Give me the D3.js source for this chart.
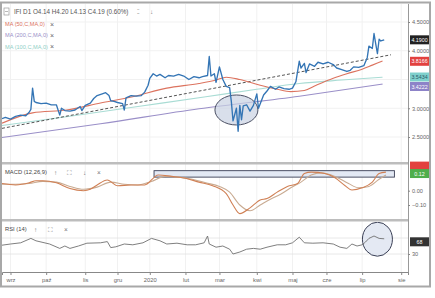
<!DOCTYPE html>
<html><head><meta charset="utf-8">
<script src="https://cdn.jsdelivr.net/npm/d3@7"></script>
<style>
html,body{margin:0;padding:0;background:#fff;}
svg{display:block;font-family:"Liberation Sans",Arial,sans-serif;}
</style></head>
<body><svg id="c" width="435" height="298"></svg>
<script>
// ---------- data (trading-day index based) ----------
const tickDays   = [5,26,49,68,87,108,128,150,171,191,212,235];
const tickLabels = ["wrz","paź","lis","gru","2020","lut","mar","kwi","maj","cze","lip","sie"];

const priceDay   = [0,2,5,8,11,14,16,17,18,19,20,23,26,29,32,34,35,37,40,43,46,47,49,52,54,56,59,61,63,64,66,68,71,72,73,76,79,82,84,86,87,89,91,93,96,98,101,104,107,110,113,116,118,121,122,123,125,126,128,130,132,134,135,136,138,139,140,141,142,144,146,148,150,151,154,156,158,161,163,166,169,171,173,175,176,178,179,181,184,186,189,192,195,197,200,203,205,207,210,213,215,216,218,219,220,221,222,223,225];
const priceClose = [2.82,2.84,2.81,2.86,2.88,2.87,2.93,2.98,3.35,3.12,3.10,3.08,3.09,3.06,3.06,2.88,3.00,2.96,2.95,2.97,3.03,2.96,3.05,3.09,3.17,3.22,3.25,3.27,3.22,3.13,3.12,3.10,3.08,2.97,3.18,3.22,3.21,3.22,3.28,3.40,3.52,3.60,3.56,3.59,3.53,3.57,3.56,3.59,3.56,3.50,3.55,3.53,3.55,3.57,3.90,3.56,3.60,3.45,3.72,3.50,3.38,3.36,3.12,2.78,3.00,2.60,3.05,2.80,3.04,3.06,2.95,3.05,3.25,3.00,3.23,3.30,3.38,3.33,3.37,3.34,3.33,3.35,3.46,3.82,3.70,3.78,3.62,3.77,3.73,3.80,3.77,3.80,3.76,3.70,3.67,3.64,3.66,3.72,3.71,3.74,3.88,4.08,4.04,4.30,4.12,3.95,4.20,4.17,4.19];

const ma50Day   = [0,18,38,58,77,97,116,126,132,140,152,162,170,178,185,195,203,212,218,224];
const ma50Val   = [2.74,2.92,2.97,3.09,3.20,3.35,3.43,3.49,3.54,3.50,3.40,3.33,3.29,3.31,3.40,3.52,3.60,3.68,3.75,3.82];
const ma100Day  = [0,40,80,120,150,175,200,224];
const ma100Val  = [2.70,2.86,3.03,3.20,3.33,3.43,3.49,3.54];
const ma200Day  = [0,58,116,175,224];
const ma200Val  = [2.49,2.73,2.99,3.21,3.42];
const trendDay  = [0,229];
const trendVal  = [2.65,3.93];

const macdDay   = [0,8,16,20,24,32,40,48,52,56,62,68,76,84,92,100,108,116,124,132,136,140,146,152,156,162,168,174,178,182,190,196,202,206,212,218,222,226];
const macdVal   = [0.05,0.04,0.055,0.07,0.07,0.055,0.015,0.0,0.01,0.04,0.075,0.035,0.04,0.04,0.11,0.10,0.087,0.06,0.035,-0.02,-0.10,-0.16,-0.12,-0.065,-0.055,-0.01,0.03,0.05,0.12,0.13,0.12,0.09,0.035,0.005,0.02,0.06,0.12,0.13];
const signalDay = [0,8,16,24,32,40,48,56,64,72,80,88,96,104,112,120,128,134,140,146,152,158,164,170,176,182,188,196,204,210,216,222,226];
const signalVal = [0.045,0.045,0.05,0.065,0.06,0.03,0.01,0.025,0.06,0.045,0.04,0.065,0.10,0.095,0.08,0.055,0.03,-0.01,-0.10,-0.14,-0.10,-0.06,-0.025,0.02,0.06,0.11,0.125,0.10,0.05,0.02,0.03,0.08,0.11];

const rsiDay = [0,5,11,17,20,28,34,37,40,45,50,58,62,64,67,72,77,83,88,93,97,103,109,114,119,121,122,126,130,134,136,140,144,148,152,156,162,167,171,175,178,183,189,195,199,203,206,209,212,214,216,219,222,225];
const rsiVal = [52,55,58,69,63,55,44,50,44,50,57,58,61,46,48,55,53,58,69,63,55,57,53,53,58,75,55,47,50,42,30,35,42,44,42,47,53,53,58,72,58,57,58,55,47,44,55,50,53,60,69,75,69,68];

const priceGrid  = [2.5,3.0,3.5,4.0,4.5];
const priceTicks = [2.5,3.0,4.0,4.5];
const macdTicks  = [0.0,-0.1];
const rsiTicks   = [30];
const rsiLevels  = [30,70];

const legendNames  = ["MA (50,C,MA,0)","MA (200,C,MA,0)","MA (100,C,MA,0)"];
const headerText   = "IFI D1  O4.14  H4.20  L4.13  C4.19  (0.60%)";
const priceLabels  = [{v:4.19,t:"4.1900",bg:"#222",fg:"#fff"},{v:3.8166,t:"3.8166",bg:"#e2413f",fg:"#fff"},{v:3.5434,t:"3.5434",bg:"#7fd0cc",fg:"#2a5c6a"},{v:3.4222,t:"3.4222",bg:"#8d83c8",fg:"#fff"}];

// annotations
const priceEllipse = {day:138, v:2.97};
const rsiEllipse   = {day:221, v:67};
const macdBox      = {d0:89.5, d1:231, v0:0.14, v1:0.095};

// ---------- layout ----------
const svg = d3.select("#c");
const L = 2, R = 408;
const x = d3.scaleLinear().domain([0,239]).range([L,R]);
const yP = d3.scaleLinear().domain([2.5,4.5]).range([137,22]);
const yM = d3.scaleLinear().domain([-0.1,0]).range([205,190.7]);
const yR = d3.scaleLinear().domain([0,100]).range([266,226]);

const colRed="#dc735f", colTeal="#a9dcd4", colPurple="#9a8fc8", colBlue="#3475b5";

// frame
svg.append("rect").attr("x",1).attr("y",2.5).attr("width",429).attr("height",284).attr("fill","#fff").attr("stroke","#a8a8a8").attr("stroke-width",2);

// grid
const grid = svg.append("g").attr("stroke","#f1f1f1").attr("stroke-width",1);
tickDays.forEach(d=>{ grid.append("line").attr("x1",x(d)).attr("x2",x(d)).attr("y1",4).attr("y2",272); });
priceGrid.forEach(v=>{ grid.append("line").attr("x1",L).attr("x2",R).attr("y1",yP(v)).attr("y2",yP(v)); });

// clip
const defs = svg.append("defs");
defs.append("clipPath").attr("id","cp").append("rect").attr("x",L).attr("y",4).attr("width",R-L).attr("height",158);
defs.append("clipPath").attr("id","cm").append("rect").attr("x",L).attr("y",165).attr("width",R-L).attr("height",54);
defs.append("clipPath").attr("id","cr").append("rect").attr("x",L).attr("y",222).attr("width",R-L).attr("height",50);

function series(days, vals){ return days.map((d,i)=>[d,vals[i]]); }

// price panel
const gp = svg.append("g").attr("clip-path","url(#cp)");
const lineP = d3.line().x(d=>x(d[0])).y(d=>yP(d[1]));
const lineS = d3.line().x(d=>x(d[0])).y(d=>yP(d[1])).curve(d3.curveMonotoneX);
gp.append("path").datum(series(ma200Day,ma200Val)).attr("d",lineS).attr("fill","none").attr("stroke",colPurple).attr("stroke-width",1.1);
gp.append("path").datum(series(ma100Day,ma100Val)).attr("d",lineS).attr("fill","none").attr("stroke",colTeal).attr("stroke-width",1.1);
gp.append("path").datum(series(trendDay,trendVal)).attr("d",lineP).attr("fill","none").attr("stroke","#555").attr("stroke-width",1).attr("stroke-dasharray","3,2");
gp.append("path").datum(series(ma50Day,ma50Val)).attr("d",lineS).attr("fill","none").attr("stroke",colRed).attr("stroke-width",1.1);
gp.append("ellipse").attr("cx",x(priceEllipse.day)).attr("cy",yP(priceEllipse.v)).attr("rx",21.5).attr("ry",15)
  .attr("fill","#c9d1e3").attr("fill-opacity",0.7).attr("stroke","#4a4f63").attr("stroke-width",1);
gp.append("path").datum(series(priceDay,priceClose)).attr("d",lineP).attr("fill","none").attr("stroke",colBlue).attr("stroke-width",1.35).attr("stroke-linejoin","round");

// header
svg.append("rect").attr("x",4).attr("y",8).attr("width",5).attr("height",7).attr("fill","none").attr("stroke","#999").attr("stroke-width",0.7);
svg.append("line").attr("x1",5).attr("x2",8).attr("y1",11.5).attr("y2",11.5).attr("stroke","#999").attr("stroke-width",0.7);
svg.append("text").attr("x",14).attr("y",14).attr("font-size",6.3).attr("fill","#555").text(headerText);
svg.append("text").attr("x",137).attr("y",14).attr("font-size",6.5).attr("fill","#888").text("⁚⁚");
svg.append("text").attr("x",150).attr("y",14).attr("font-size",6.5).attr("fill","#888").text("↓");

// legend
const legCols = [colRed, colPurple, "#8fcfc6"];
legendNames.forEach((n,i)=>{
  svg.append("text").attr("x",5).attr("y",26+i*11.3).attr("font-size",5.6).attr("fill",legCols[i]).text(n);
  svg.append("text").attr("x",50).attr("y",26.5+i*11.3).attr("font-size",7).attr("fill","#666").text("×");
});

// separators
svg.append("rect").attr("x",L).attr("y",162).attr("width",R-L).attr("height",2.5).attr("fill","#bdbdbd");
svg.append("rect").attr("x",L).attr("y",219).attr("width",R-L).attr("height",2.5).attr("fill","#bdbdbd");
svg.append("line").attr("x1",R+0.5).attr("x2",R+0.5).attr("y1",4).attr("y2",273).attr("stroke","#999").attr("stroke-width",1);

// MACD panel
const gm = svg.append("g").attr("clip-path","url(#cm)");
gm.append("rect").attr("x",x(macdBox.d0)).attr("y",yM(macdBox.v0)).attr("width",x(macdBox.d1)-x(macdBox.d0)).attr("height",yM(macdBox.v1)-yM(macdBox.v0))
  .attr("fill","#e3e9f4").attr("stroke","#3a3f55").attr("stroke-width",0.9);
const lineM = d3.line().x(d=>x(d[0])).y(d=>yM(d[1])).curve(d3.curveMonotoneX);
gm.append("path").datum(series(signalDay,signalVal)).attr("d",lineM).attr("fill","none").attr("stroke","#c9ab92").attr("stroke-width",1.1);
gm.append("path").datum(series(macdDay,macdVal)).attr("d",lineM).attr("fill","none").attr("stroke","#d08055").attr("stroke-width",1.1);
svg.append("text").attr("x",5).attr("y",174).attr("font-size",5.8).attr("fill","#444").text("MACD (12,26,9)");
[["↑",54],["⛶",67],["↓",83],["×",97]].forEach(a=>svg.append("text").attr("x",a[1]).attr("y",174.5).attr("font-size",6.5).attr("fill","#777").text(a[0]));

// RSI panel
const gr = svg.append("g").attr("clip-path","url(#cr)");
rsiLevels.forEach(v=>gr.append("line").attr("x1",L).attr("x2",R).attr("y1",yR(v)).attr("y2",yR(v)).attr("stroke","#e2e2e2").attr("stroke-width",0.8));
gr.append("ellipse").attr("cx",x(rsiEllipse.day)).attr("cy",yR(rsiEllipse.v)).attr("rx",15).attr("ry",17)
  .attr("fill","#dde3f0").attr("fill-opacity",0.8).attr("stroke","#3a3f55").attr("stroke-width",1);
const lineR = d3.line().x(d=>x(d[0])).y(d=>yR(d[1]));
gr.append("path").datum(series(rsiDay,rsiVal)).attr("d",lineR).attr("fill","none").attr("stroke","#707070").attr("stroke-width",0.9);
svg.append("text").attr("x",5).attr("y",231).attr("font-size",5.8).attr("fill","#444").text("RSI (14)");
[["↑",34],["⛶",48],["×",64]].forEach(a=>svg.append("text").attr("x",a[1]).attr("y",231.5).attr("font-size",6.5).attr("fill","#777").text(a[0]));

// x axis
const xAxis = d3.axisBottom(x).tickValues(tickDays).tickFormat((d,i)=>tickLabels[i]).tickSize(3).tickPadding(3);
const gx = svg.append("g").attr("transform","translate(0,272)").call(xAxis);
gx.select(".domain").attr("stroke","#888");
gx.selectAll(".tick line").attr("stroke","#888");
gx.selectAll("text").attr("font-size",5.8).attr("fill","#666").attr("font-family","Liberation Sans, Arial, sans-serif");

// right axes
function rightAxis(scale, ticks, fmt){
  const g = svg.append("g").attr("transform",`translate(${R},0)`).call(d3.axisRight(scale).tickValues(ticks).tickFormat(fmt).tickSize(2).tickPadding(2));
  g.select(".domain").remove();
  g.selectAll(".tick line").attr("stroke","#888");
  g.selectAll("text").attr("font-size",5.6).attr("fill","#666").attr("font-family","Liberation Sans, Arial, sans-serif");
}
rightAxis(yP, priceTicks, d3.format(".4f"));
rightAxis(yM, macdTicks, d3.format(".2f"));
rightAxis(yR, rsiTicks, d3.format("d"));

// value boxes (stacked so they do not overlap)
function box(yc, bg, fg, t){
  svg.append("rect").attr("x",R+2).attr("y",yc-4.5).attr("width",19).attr("height",9).attr("fill",bg);
  if(t) svg.append("text").attr("x",R+11.5).attr("y",yc+2).attr("text-anchor","middle").attr("font-size",5.3).attr("fill",fg).text(t);
}
let prevY = -Infinity;
priceLabels.map(p=>({...p, y:yP(p.v)})).sort((a,b)=>a.y-b.y).forEach(p=>{
  const yc = Math.max(p.y, prevY + 9.5);
  box(yc,p.bg,p.fg,p.t);
  prevY = yc;
});
box(yM(macdVal[macdVal.length-1])-6,"#e2413f","#fff","");
box(yM(0.12),"#4fae4c","#fff","0.12");
box(yR(rsiVal[rsiVal.length-1])+3,"#333","#fff","68");
</script></body></html>
